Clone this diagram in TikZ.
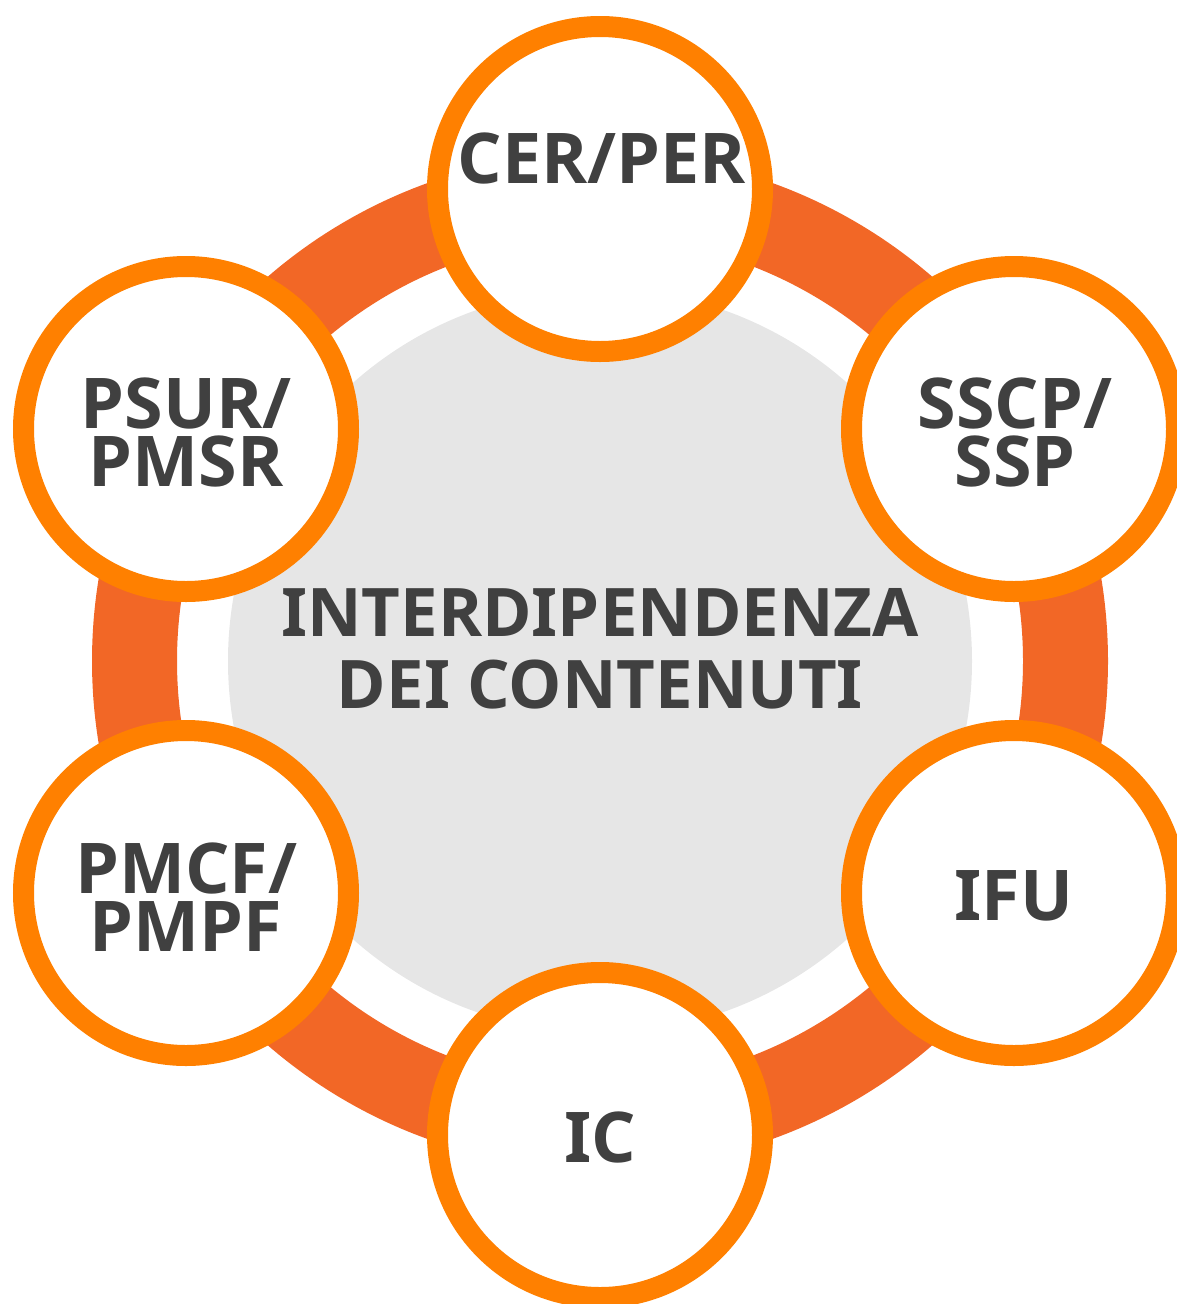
\documentclass[tikz,border=0pt]{standalone}
\usepackage{fontspec}
\newfontfamily\lblfont{Open Sans}[UprightFont={* Bold}, RawFeature={+salt}]
\definecolor{ringc}{RGB}{242,103,38}
\definecolor{bubc}{RGB}{255,128,0}
\definecolor{grayc}{RGB}{230,230,230}
\definecolor{txtc}{RGB}{64,64,64}
\begin{document}
\begin{tikzpicture}[x=1pt,y=-1pt,
  bub/.style={circle, draw=bubc, line width=21pt, fill=white, minimum size=325pt, inner sep=0pt},
  lbl/.style={font=\fontsize{70}{58}\lblfont, text=txtc, align=center, inner sep=0pt, anchor=base},
  ttl/.style={font=\fontsize{67}{72}\lblfont, text=txtc, align=center, inner sep=0pt, anchor=base}]
\useasboundingbox (0,0) rectangle (1177,1304);
\begin{scope}
\clip (0,0) rectangle (1177,1304);
\fill[grayc] (600,661) circle[radius=372];
\draw[ringc, line width=85pt] (600,661) circle[radius=465.5];
\node[bub] (cer) at (600,189) {};
\node[bub] (sscp) at (1014,429) {};
\node[bub] (ifu) at (1014,893) {};
\node[bub] (ic) at (600,1135) {};
\node[bub] (pmcf) at (186,893) {};
\node[bub] (psur) at (186,429) {};
\end{scope}
\node[ttl] (title) at (600,708) {INTERDIPENDENZA\\DEI CONTENUTI};
\node[lbl] (tcer) at (602,183) {CER/PER};
\node[lbl] (tsscp) at (1015,486) {SSCP/\\SSP};
\node[lbl] (tifu) at (1014,920) {IFU};
\node[lbl] (tic) at (600,1162) {IC};
\node[lbl] (tpmcf) at (186,951) {PMCF/\\PMPF};
\node[lbl] (tpsur) at (186,486) {PSUR/\\PMSR};
\end{tikzpicture}
\end{document}
